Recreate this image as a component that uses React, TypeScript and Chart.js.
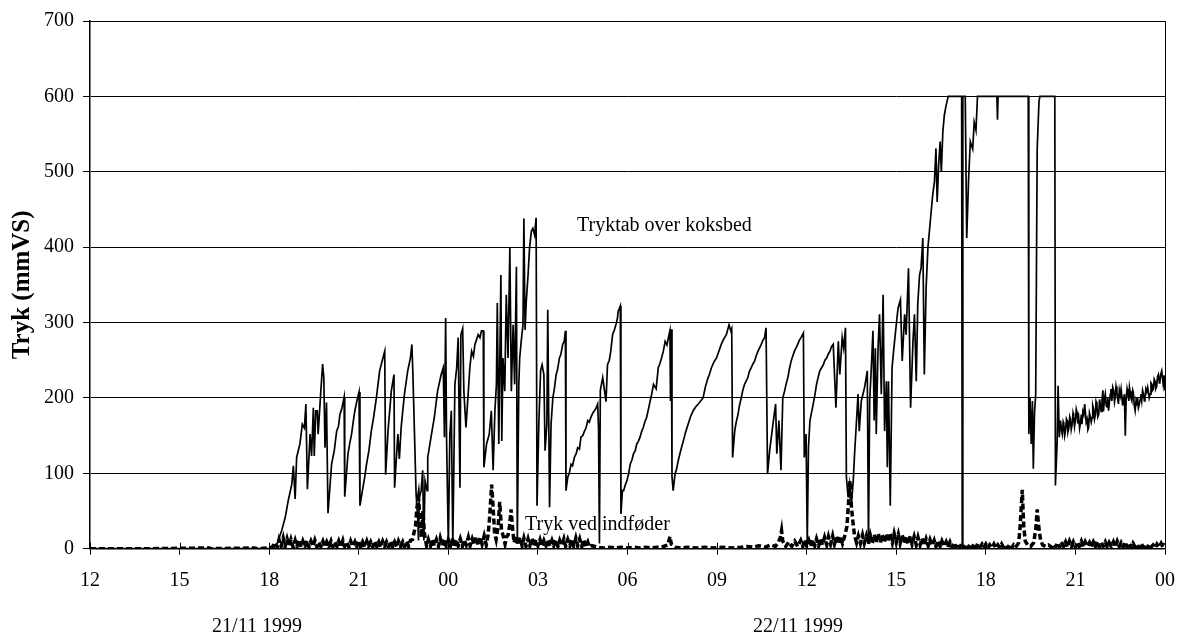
import React, { useEffect, useRef } from "react";
import { Chart, registerables } from "chart.js";

Chart.register(...registerables);

// Time axis: hours counted from 00:00 on 21/11 1999 (12 = 21/11 12:00, 48 = 23/11 00:00)
const xTickLabels = ["12", "15", "18", "21", "00", "03", "06", "09", "12", "15", "18", "21", "00"];
const dayLabels = ["21/11 1999", "22/11 1999"];
const seriesNames = ["Tryktab over koksbed", "Tryk ved indføder"];
const yTitle = "Tryk (mmVS)";

// Tryktab over koksbed: [hour, mmVS]
const koksbed: [number, number][] = [
  [12, 0], [14, 0], [16, 0], [17, 0], [18, 0], [18.14, 0], [18.28, 8], [18.42, 24], [18.54, 42], [18.64, 64],
  [18.76, 86], [18.81, 110], [18.87, 66], [18.92, 121], [19.03, 139], [19.11, 165], [19.18, 160], [19.23, 192],
  [19.28, 79], [19.37, 152], [19.42, 123], [19.48, 187], [19.51, 123], [19.56, 183], [19.61, 183], [19.64, 152],
  [19.73, 209], [19.79, 245], [19.83, 227], [19.87, 134], [19.92, 194], [19.97, 47], [20.09, 112], [20.18, 130],
  [20.26, 156], [20.32, 162], [20.37, 178], [20.44, 187], [20.51, 201], [20.53, 69], [20.64, 126], [20.7, 140],
  [20.76, 152], [20.82, 170], [20.87, 183], [20.96, 200], [21.01, 208], [21.04, 57], [21.14, 81], [21.2, 95],
  [21.26, 112], [21.34, 130], [21.42, 156], [21.5, 175], [21.59, 200], [21.7, 236], [21.81, 253], [21.87, 262],
  [21.9, 98], [21.98, 156], [22.09, 209], [22.18, 231], [22.2, 81], [22.31, 152], [22.36, 119], [22.42, 161],
  [22.53, 205], [22.64, 236], [22.73, 253], [22.78, 271], [22.81, 236], [22.87, 148], [22.92, 73], [22.98, 37],
  [23.0, 11], [23.03, 68], [23.09, 77], [23.14, 104], [23.18, 11], [23.22, 90], [23.29, 77], [23.31, 121],
  [23.42, 148], [23.53, 174], [23.64, 209], [23.76, 231], [23.83, 240], [23.87, 148], [23.91, 306], [23.94, 148],
  [24.0, 5], [24.05, 150], [24.1, 183], [24.15, 4], [24.22, 218], [24.28, 240], [24.33, 280], [24.39, 81],
  [24.42, 284], [24.48, 292], [24.52, 209], [24.59, 161], [24.67, 209], [24.72, 240], [24.78, 262], [24.84, 255],
  [24.89, 271], [24.95, 278], [25.0, 284], [25.06, 280], [25.11, 289], [25.17, 289], [25.19, 108], [25.28, 139],
  [25.37, 152], [25.44, 183], [25.5, 104], [25.56, 183], [25.61, 218], [25.64, 326], [25.69, 139], [25.76, 363],
  [25.79, 143], [25.83, 253], [25.89, 209], [25.94, 337], [26.0, 253], [26.06, 399], [26.11, 209], [26.17, 297],
  [26.22, 218], [26.28, 374], [26.31, 7], [26.36, 218], [26.39, 253], [26.44, 275], [26.5, 297], [26.53, 438],
  [26.57, 290], [26.61, 328], [26.67, 363], [26.72, 399], [26.78, 421], [26.83, 425], [26.89, 416], [26.94, 439],
  [26.97, 57], [27.03, 165], [27.09, 236], [27.14, 244], [27.2, 231], [27.24, 130], [27.3, 165], [27.33, 317],
  [27.39, 55], [27.44, 165], [27.5, 200], [27.55, 212], [27.61, 231], [27.66, 238], [27.72, 253], [27.77, 258],
  [27.83, 271], [27.88, 275], [27.92, 289], [27.94, 77], [28.0, 95], [28.05, 100], [28.11, 112], [28.16, 110],
  [28.22, 121], [28.28, 126], [28.33, 134], [28.39, 132], [28.44, 148], [28.5, 150], [28.56, 156], [28.61, 160],
  [28.67, 170], [28.72, 168], [28.78, 175], [28.84, 180], [28.89, 183], [28.94, 186], [29.0, 192], [29.03, 160],
  [29.06, 7], [29.09, 210], [29.17, 227], [29.28, 195], [29.33, 244], [29.39, 250], [29.44, 262], [29.5, 284],
  [29.56, 290], [29.61, 297], [29.66, 305], [29.69, 315], [29.76, 322], [29.78, 46], [29.83, 77], [29.87, 77],
  [29.93, 85], [29.98, 90], [30.04, 100], [30.09, 112], [30.15, 118], [30.2, 126], [30.26, 130], [30.31, 139],
  [30.36, 142], [30.42, 148], [30.47, 155], [30.53, 161], [30.58, 168], [30.64, 174], [30.7, 185], [30.76, 196],
  [30.81, 205], [30.87, 218], [30.96, 212], [31.03, 240], [31.08, 245], [31.14, 253], [31.2, 262], [31.26, 275],
  [31.32, 270], [31.37, 280], [31.42, 289], [31.44, 196], [31.47, 291], [31.49, 95], [31.53, 77], [31.59, 99],
  [31.64, 105], [31.7, 117], [31.78, 130], [31.87, 143], [31.95, 155], [32.03, 165], [32.11, 175], [32.2, 183],
  [32.28, 188], [32.37, 192], [32.45, 196], [32.53, 200], [32.61, 215], [32.7, 227], [32.75, 232], [32.81, 240],
  [32.9, 248], [32.98, 253], [33.06, 262], [33.14, 271], [33.22, 278], [33.31, 284], [33.4, 297], [33.46, 289],
  [33.49, 292], [33.52, 121], [33.59, 156], [33.64, 168], [33.7, 178], [33.75, 190], [33.81, 200], [33.86, 210],
  [33.92, 218], [33.97, 222], [34.03, 227], [34.08, 235], [34.14, 240], [34.2, 245], [34.26, 249], [34.31, 256],
  [34.37, 262], [34.42, 266], [34.48, 271], [34.53, 276], [34.59, 280], [34.64, 293], [34.69, 99], [34.76, 130],
  [34.87, 165], [34.96, 192], [35.0, 126], [35.07, 170], [35.14, 104], [35.2, 200], [35.26, 209], [35.31, 218],
  [35.37, 227], [35.42, 238], [35.48, 249], [35.53, 255], [35.59, 262], [35.64, 266], [35.7, 271], [35.75, 276],
  [35.81, 280], [35.89, 286], [35.92, 121], [35.98, 152], [36.02, 7], [36.06, 134], [36.11, 170], [36.22, 192],
  [36.28, 205], [36.33, 218], [36.39, 228], [36.44, 236], [36.5, 240], [36.56, 244], [36.61, 250], [36.67, 253],
  [36.72, 258], [36.78, 262], [36.83, 268], [36.89, 271], [36.98, 187], [37.06, 275], [37.11, 231], [37.19, 280],
  [37.24, 266], [37.3, 293], [37.33, 95], [37.39, 68], [37.44, 86], [37.5, 60], [37.56, 90], [37.61, 130],
  [37.67, 170], [37.72, 205], [37.76, 156], [37.83, 196], [37.94, 214], [38.03, 236], [38.07, 7], [38.11, 196],
  [38.17, 244], [38.22, 289], [38.26, 170], [38.3, 266], [38.33, 152], [38.39, 266], [38.44, 311], [38.5, 205],
  [38.56, 337], [38.61, 156], [38.67, 222], [38.7, 108], [38.74, 222], [38.8, 57], [38.86, 240], [38.92, 266],
  [39.0, 297], [39.06, 319], [39.14, 330], [39.2, 249], [39.28, 311], [39.33, 284], [39.41, 372], [39.48, 187],
  [39.56, 275], [39.61, 311], [39.67, 222], [39.72, 324], [39.78, 363], [39.83, 372], [39.89, 412], [39.94, 231],
  [40.0, 346], [40.06, 399], [40.13, 430], [40.22, 469], [40.28, 487], [40.33, 531], [40.37, 460], [40.42, 509],
  [40.47, 540], [40.51, 500], [40.56, 553], [40.61, 575], [40.67, 588], [40.74, 600], [41.19, 600], [41.21, 4],
  [41.23, 600], [41.31, 600], [41.36, 412], [41.42, 487], [41.48, 540], [41.56, 530], [41.61, 566], [41.67, 555],
  [41.72, 600], [42.37, 600], [42.39, 569], [42.41, 600], [43.42, 600], [43.44, 152], [43.48, 200], [43.52, 139],
  [43.56, 196], [43.59, 106], [43.63, 180], [43.67, 205], [43.72, 531], [43.78, 593], [43.81, 600], [44.31, 600],
  [44.33, 84], [44.39, 143], [44.42, 216], [44.46, 148], [44.5, 170], [44.53, 158], [44.56, 152], [44.59, 168],
  [44.61, 165], [44.64, 150], [44.67, 157], [44.7, 172], [44.72, 170], [44.75, 155], [44.78, 160], [44.81, 175],
  [44.83, 172], [44.86, 158], [44.89, 165], [44.92, 180], [44.94, 176], [44.97, 162], [45.0, 170], [45.03, 185],
  [45.06, 180], [45.08, 166], [45.11, 174], [45.14, 160], [45.17, 168], [45.2, 178], [45.22, 165], [45.25, 182],
  [45.28, 178], [45.31, 192], [45.33, 183], [45.36, 168], [45.39, 172], [45.42, 158], [45.44, 160], [45.47, 180],
  [45.5, 175], [45.53, 168], [45.56, 174], [45.58, 190], [45.61, 185], [45.64, 172], [45.67, 178], [45.69, 195],
  [45.72, 190], [45.75, 175], [45.78, 178], [45.81, 198], [45.83, 192], [45.86, 182], [45.89, 196], [45.92, 210],
  [45.94, 182], [45.97, 198], [46.0, 205], [46.03, 190], [46.06, 188], [46.08, 200], [46.11, 183], [46.14, 195],
  [46.17, 205], [46.19, 212], [46.22, 196], [46.25, 214], [46.28, 210], [46.31, 195], [46.33, 200], [46.36, 215],
  [46.39, 207], [46.42, 198], [46.44, 192], [46.47, 210], [46.5, 203], [46.53, 212], [46.56, 200], [46.58, 190],
  [46.61, 196], [46.64, 205], [46.67, 150], [46.7, 200], [46.73, 212], [46.76, 205], [46.79, 196], [46.81, 214],
  [46.83, 209], [46.86, 200], [46.89, 196], [46.92, 210], [46.94, 207], [46.97, 190], [47.0, 183], [47.03, 196],
  [47.06, 190], [47.08, 200], [47.11, 187], [47.14, 192], [47.17, 198], [47.19, 205], [47.22, 196], [47.25, 210],
  [47.28, 205], [47.31, 196], [47.33, 200], [47.36, 212], [47.39, 208], [47.42, 214], [47.44, 209], [47.47, 200],
  [47.5, 205], [47.53, 220], [47.56, 218], [47.58, 210], [47.61, 212], [47.64, 225], [47.67, 222], [47.69, 212],
  [47.72, 215], [47.75, 228], [47.78, 231], [47.81, 220], [47.83, 222], [47.86, 232], [47.89, 236], [47.92, 225],
  [47.94, 218], [47.97, 230], [48.0, 210],
];

// Tryk ved indføder: [hour, mmVS]
const indfoder: [number, number][] = [
  [12, 0], [14, 0], [16, 1], [16.05, 0], [17.5, 1], [17.6, 0], [18.0, 1], [18.1, 2], [18.2, 8], [18.27, 2],
  [18.33, 12], [18.4, 3], [18.47, 14], [18.53, 2], [18.6, 13], [18.67, 3], [18.73, 12], [18.8, 2], [18.87, 11], [18.93, 3],
  [19.0, 12], [19.07, 2], [19.13, 10], [19.2, 3], [19.27, 11], [19.33, 2], [19.4, 10], [19.47, 3], [19.53, 11], [19.6, 2],
  [19.67, 9], [19.73, 3], [19.8, 10], [19.87, 2], [19.93, 9], [20.0, 3], [20.07, 10], [20.13, 2], [20.2, 9], [20.27, 3],
  [20.33, 10], [20.4, 2], [20.47, 11], [20.53, 3], [20.6, 9], [20.67, 2], [20.73, 10], [20.8, 3], [20.87, 9], [20.93, 2],
  [21.0, 11], [21.07, 3], [21.13, 9], [21.2, 2], [21.27, 10], [21.33, 3], [21.4, 9], [21.47, 2], [21.53, 10], [21.6, 3],
  [21.67, 9], [21.73, 2], [21.8, 10], [21.87, 3], [21.93, 9], [22.0, 2], [22.07, 10], [22.13, 3], [22.2, 9], [22.27, 2],
  [22.33, 10], [22.4, 3], [22.47, 9], [22.53, 2], [22.6, 10], [22.67, 3], [22.73, 11], [22.8, 12], [22.9, 30], [22.95, 55],
  [23.0, 68], [23.05, 40], [23.1, 15], [23.15, 50], [23.2, 20], [23.27, 4], [23.33, 12], [23.4, 3], [23.47, 13], [23.53, 4],
  [23.6, 12], [23.67, 3], [23.73, 14], [23.8, 4], [23.87, 13], [23.93, 3], [24.0, 12], [24.07, 4], [24.13, 14], [24.2, 3],
  [24.27, 12], [24.33, 4], [24.4, 13], [24.47, 3], [24.53, 12], [24.6, 5], [24.67, 15], [24.73, 4], [24.8, 13], [24.87, 5],
  [24.93, 16], [25.0, 4], [25.07, 15], [25.13, 6], [25.2, 17], [25.27, 5], [25.33, 18], [25.38, 40], [25.45, 85], [25.5, 55],
  [25.55, 20], [25.6, 12], [25.67, 30], [25.72, 62], [25.78, 25], [25.85, 15], [25.9, 6], [25.95, 16], [26.0, 18], [26.05, 30],
  [26.1, 52], [26.15, 28], [26.2, 8], [26.27, 17], [26.33, 5], [26.4, 15], [26.47, 4], [26.53, 14], [26.6, 3], [26.67, 13],
  [26.73, 4], [26.8, 14], [26.87, 3], [26.93, 12], [27.0, 4], [27.07, 12], [27.13, 3], [27.2, 11], [27.27, 4], [27.33, 12],
  [27.4, 3], [27.47, 11], [27.53, 4], [27.6, 12], [27.67, 3], [27.73, 11], [27.8, 4], [27.87, 13], [27.93, 3], [28.0, 12],
  [28.07, 4], [28.13, 13], [28.2, 3], [28.27, 14], [28.33, 4], [28.4, 13], [28.47, 3], [28.53, 12], [28.6, 3], [28.67, 9],
  [28.73, 2], [28.8, 4], [29.0, 2], [29.2, 1], [29.4, 2], [29.6, 1], [29.8, 2], [30.0, 1], [30.2, 2], [30.4, 1],
  [30.6, 2], [30.8, 1], [31.0, 2], [31.2, 3], [31.35, 5], [31.42, 16], [31.47, 6], [31.6, 2], [31.8, 1], [32.0, 2],
  [32.3, 1], [32.6, 2], [32.9, 1], [33.2, 2], [33.5, 1], [33.8, 2], [34.0, 3], [34.2, 2], [34.4, 4], [34.6, 2],
  [34.8, 5], [34.95, 3], [35.05, 8], [35.12, 15], [35.16, 24], [35.2, 10], [35.3, 3], [35.4, 9], [35.5, 3], [35.6, 10],
  [35.7, 3], [35.8, 11], [35.87, 3], [35.93, 12], [36.0, 4], [36.07, 11], [36.13, 3], [36.2, 12], [36.27, 4], [36.33, 13],
  [36.4, 4], [36.47, 14], [36.53, 5], [36.6, 15], [36.67, 5], [36.73, 16], [36.8, 6], [36.87, 17], [36.93, 6], [37.0, 16],
  [37.07, 6], [37.13, 17], [37.2, 7], [37.27, 16], [37.35, 30], [37.4, 60], [37.45, 90], [37.5, 55], [37.55, 35], [37.6, 18],
  [37.67, 8], [37.73, 17], [37.8, 7], [37.87, 18], [37.93, 7], [38.0, 17], [38.07, 6], [38.13, 18], [38.2, 7], [38.27, 19],
  [38.33, 8], [38.4, 20], [38.47, 8], [38.53, 19], [38.6, 8], [38.67, 20], [38.73, 9], [38.8, 21], [38.87, 8], [38.93, 20],
  [39.0, 8], [39.07, 19], [39.13, 7], [39.2, 18], [39.27, 7], [39.33, 17], [39.4, 6], [39.47, 17], [39.53, 6], [39.6, 16],
  [39.67, 5], [39.73, 15], [39.8, 5], [39.87, 14], [39.93, 4], [40.0, 13], [40.07, 4], [40.13, 12], [40.2, 4], [40.27, 11],
  [40.33, 3], [40.4, 11], [40.47, 3], [40.53, 10], [40.6, 3], [40.67, 9], [40.73, 2], [40.8, 9], [40.87, 2], [40.93, 8],
  [41.0, 2], [41.07, 7], [41.13, 2], [41.2, 7], [41.27, 1], [41.33, 6], [41.4, 1], [41.47, 6], [41.53, 1], [41.6, 6],
  [41.67, 1], [41.73, 7], [41.8, 2], [41.87, 6], [41.93, 1], [42.0, 6], [42.07, 1], [42.13, 5], [42.2, 1], [42.27, 6],
  [42.33, 1], [42.4, 5], [42.47, 1], [42.53, 6], [42.6, 1], [42.67, 5], [42.73, 1], [42.8, 6], [42.87, 1], [42.93, 5],
  [43.0, 2], [43.07, 6], [43.1, 8], [43.15, 30], [43.22, 78], [43.27, 30], [43.32, 10], [43.4, 5], [43.5, 3], [43.6, 8],
  [43.67, 25], [43.72, 52], [43.77, 30], [43.83, 12], [43.9, 5], [44.0, 3], [44.1, 5], [44.2, 2], [44.27, 6], [44.33, 2],
  [44.4, 8], [44.47, 2], [44.53, 9], [44.6, 3], [44.67, 9], [44.73, 2], [44.8, 10], [44.87, 3], [44.93, 9], [45.0, 2],
  [45.07, 9], [45.13, 3], [45.2, 10], [45.27, 2], [45.33, 9], [45.4, 3], [45.47, 8], [45.53, 2], [45.6, 9], [45.67, 3],
  [45.73, 10], [45.8, 2], [45.87, 8], [45.93, 3], [46.0, 9], [46.07, 2], [46.13, 8], [46.2, 3], [46.27, 9], [46.33, 2],
  [46.4, 10], [46.47, 3], [46.53, 8], [46.6, 2], [46.67, 9], [46.73, 2], [46.8, 7], [46.87, 1], [46.93, 7], [47.0, 2],
  [47.07, 6], [47.13, 1], [47.2, 7], [47.27, 2], [47.33, 6], [47.4, 1], [47.47, 6], [47.53, 2], [47.6, 5], [47.67, 1],
  [47.73, 6], [47.8, 2], [47.87, 7], [47.93, 2], [48.0, 7],
];

const FONT = "'Liberation Serif', 'Times New Roman', serif";

const decorations = {
  id: "decorations",
  afterDraw(chart: any) {
    const { ctx, chartArea } = chart;
    const xs = chart.scales.x;
    ctx.save();
    ctx.strokeStyle = "#000";
    ctx.lineWidth = 1;
    // top and right border
    ctx.beginPath();
    ctx.moveTo(chartArea.left, Math.round(chartArea.top) + 0.5);
    ctx.lineTo(chartArea.right, Math.round(chartArea.top) + 0.5);
    ctx.moveTo(Math.round(chartArea.right) + 0.5, chartArea.top);
    ctx.lineTo(Math.round(chartArea.right) + 0.5, chartArea.bottom);
    ctx.stroke();
    // inner part of x ticks
    ctx.beginPath();
    xs.ticks.forEach((t: any) => {
      const px = Math.round(xs.getPixelForValue(t.value)) + 0.5;
      ctx.moveTo(px, chartArea.bottom - 6);
      ctx.lineTo(px, chartArea.bottom);
    });
    ctx.stroke();
    // labels
    ctx.fillStyle = "#000";
    ctx.font = `20px ${FONT}`;
    ctx.textBaseline = "alphabetic";
    ctx.textAlign = "left";
    ctx.fillText(seriesNames[0], 577, 231);
    ctx.fillText(seriesNames[1], 525, 530);
    ctx.textAlign = "center";
    ctx.fillText(dayLabels[0], 257, 632);
    ctx.fillText(dayLabels[1], 798, 632);
    ctx.restore();
  },
};

export default function App() {
  const ref = useRef<HTMLCanvasElement>(null);
  useEffect(() => {
    if (!ref.current) return;
    const chart = new Chart(ref.current, {
      type: "line",
      data: {
        datasets: [
          {
            label: seriesNames[0],
            data: koksbed.map(([x, y]) => ({ x, y })),
            borderColor: "#000",
            borderWidth: 1.7,
            pointRadius: 0,
            tension: 0,
            fill: false,
          },
          {
            label: seriesNames[1],
            data: indfoder.map(([x, y]) => ({ x, y })),
            borderColor: "#000",
            borderWidth: 3.5,
            borderDash: [6, 3],
            pointRadius: 0,
            tension: 0,
            fill: false,
          },
        ],
      },
      plugins: [decorations],
      options: {
        animation: false,
        responsive: true,
        maintainAspectRatio: false,
        layout: { padding: { left: 0, top: 19, right: 21, bottom: 0 } },
        plugins: { legend: { display: false }, tooltip: { enabled: false } },
        scales: {
          x: {
            type: "linear",
            min: 12,
            max: 48,
            afterFit: (s: any) => {
              s.height = 93.3;
              s.paddingLeft = 0;
              s.paddingRight = 0;
            },
            ticks: {
              stepSize: 3,
              autoSkip: false,
              maxRotation: 0,
              padding: 14,
              color: "#000",
              font: { family: FONT, size: 20 },
              callback: (_v: any, i: number) => xTickLabels[i],
            },
            grid: { display: true, drawOnChartArea: false, drawTicks: true, tickLength: 6, color: "#000" },
            border: { display: true, color: "#000", width: 1.5 },
          },
          y: {
            min: 0,
            max: 700,
            afterFit: (s: any) => { s.width = 90; },
            ticks: {
              stepSize: 100,
              padding: 9,
              color: "#000",
              font: { family: FONT, size: 20 },
            },
            grid: { color: "#000", lineWidth: 1, tickLength: 7 },
            border: { display: true, color: "#000", width: 1.5 },
            title: {
              display: true,
              text: yTitle,
              color: "#000",
              font: { family: FONT, size: 25, weight: "bold" },
              padding: { top: 8, bottom: 0 },
            },
          },
        },
      },
    });
    return () => chart.destroy();
  }, []);
  return (
    <div style={{ position: "fixed", left: 0, top: 0, width: 1186, height: 642, background: "#fff" }}>
      <canvas ref={ref} />
    </div>
  );
}
